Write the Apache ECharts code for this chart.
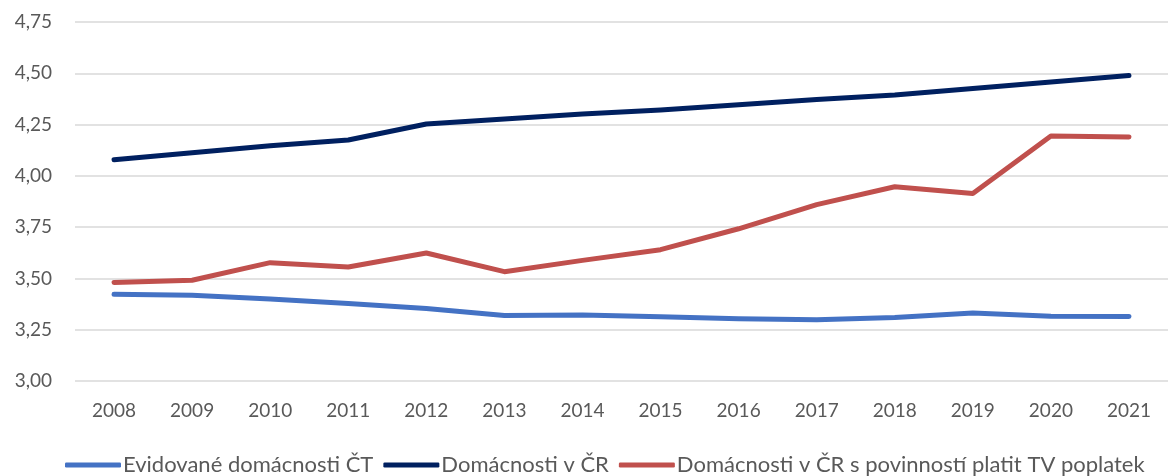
<!DOCTYPE html>
<html lang="cs">
<head>
    <meta charset="UTF-8">
    <title>Domácnosti</title>
    <style>
        body, html {
            margin: 0;
            height: 100%;
            width: 100%;
            background: #fff;
        }
    </style>
</head>
<body>
<div id="main" style="height: 476px; width: 1168px;"></div>
<script src="https://cdn.jsdelivr.net/npm/echarts@6/dist/echarts.min.js"></script>
<script>
    // roky
    var years = ['2008', '2009', '2010', '2011', '2012', '2013', '2014', '2015', '2016', '2017', '2018', '2019', '2020', '2021'];
    // hodnoty (mil.)
    var evidovane = [3.423, 3.418, 3.400, 3.378, 3.353, 3.319, 3.322, 3.313, 3.303, 3.298, 3.310, 3.331, 3.316, 3.315];
    var domacnostiCR = [4.078, 4.113, 4.147, 4.175, 4.253, 4.277, 4.301, 4.321, 4.347, 4.372, 4.394, 4.426, 4.458, 4.489];
    var povinnost = [3.480, 3.491, 3.577, 3.556, 3.624, 3.533, 3.588, 3.640, 3.742, 3.860, 3.947, 3.914, 4.194, 4.190];

    var font = 'Lato';
    var txt = '#595959';

    function line(name, data, color) {
        return {
            name: name,
            type: 'line',
            data: data,
            symbol: 'none',
            lineStyle: { color: color, width: 5, cap: 'round', join: 'round' },
            itemStyle: { color: color }
        };
    }

    var myChart = echarts.init(document.getElementById('main'));
    myChart.setOption({
        backgroundColor: '#fff',
        animation: false,
        grid: { left: 75, right: 0, top: 22, bottom: 95 },
        legend: {
            top: 449,
            left: 60,
            icon: 'roundRect',
            itemWidth: 56,
            itemHeight: 5,
            itemGap: 10,
            textStyle: { color: txt, fontFamily: font, fontSize: 22, padding: [0, 0, 0, -3] },
            data: ['Evidované domácnosti ČT', 'Domácnosti v ČR', 'Domácnosti v ČR s povinností platit TV poplatek']
        },
        xAxis: {
            type: 'category',
            data: years,
            boundaryGap: true,
            axisLine: { show: false },
            axisTick: { show: false },
            axisLabel: { color: txt, fontFamily: font, fontSize: 19, margin: 20 }
        },
        yAxis: {
            type: 'value',
            min: 3,
            max: 4.75,
            interval: 0.25,
            axisLine: { show: false },
            axisTick: { show: false },
            splitLine: { lineStyle: { color: '#d9d9d9', width: 1.5 } },
            axisLabel: {
                color: txt, fontFamily: font, fontSize: 19, margin: 23,
                formatter: function (v) { return v.toFixed(2).replace('.', ','); }
            }
        },
        series: [
            line('Evidované domácnosti ČT', evidovane, '#4472c4'),
            line('Domácnosti v ČR', domacnostiCR, '#002060'),
            line('Domácnosti v ČR s povinností platit TV poplatek', povinnost, '#c0504d')
        ]
    });
</script>
</body>
</html>
